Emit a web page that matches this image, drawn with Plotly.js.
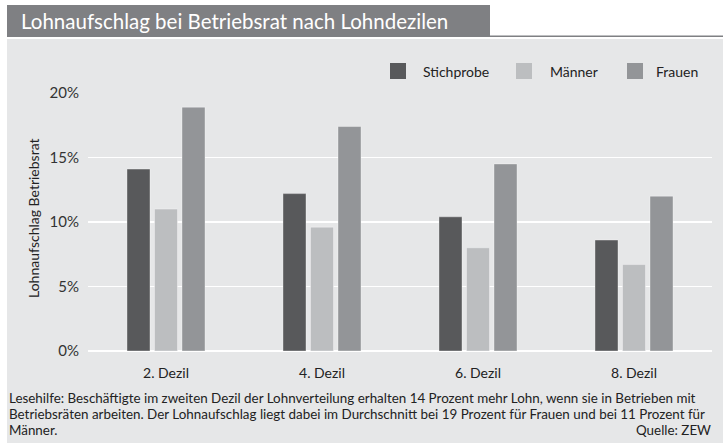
<!DOCTYPE html>
<html>
<head>
<meta charset="utf-8">
<script src="https://cdn.plot.ly/plotly-3.0.1.min.js"></script>
<style>html,body{margin:0;padding:0;background:#fff;}#chart{width:723px;height:443px;}</style>
</head>
<body>
<div id="chart"></div>
<script>
// ---- data ----
const categories = ['2. Dezil', '4. Dezil', '6. Dezil', '8. Dezil'];
const seriesNames = ['Stichprobe', 'Männer', 'Frauen'];
const stichprobe = [14.1, 12.2, 10.4, 8.6];
const maenner = [11.0, 9.6, 8.0, 6.7];
const frauen = [18.9, 17.4, 14.5, 12.0];
const yTickVals = [0, 5, 10, 15, 20];
const yTickText = ['0%', '5%', '10%', '15%', '20%'];
const titleText = 'Lohnaufschlag bei Betriebsrat nach Lohndezilen';
const yTitleText = 'Lohnaufschlag Betriebsrat';
const noteLines = [
  'Lesehilfe: Beschäftigte im zweiten Dezil der Lohnverteilung erhalten 14 Prozent mehr Lohn, wenn sie in Betrieben mit',
  'Betriebsräten arbeiten. Der Lohnaufschlag liegt dabei im Durchschnitt bei 19 Prozent für Frauen und bei 11 Prozent für',
  'Männer.'
];
const sourceText = 'Quelle: ZEW';

// ---- style ----
const colors = ['#58595b', '#bcbec0', '#939598'];
const panel = '#e6e7e8';
const boxGray = '#7f8083';
const W = 723, H = 443;
const M = {l: 88, r: 11, t: 93, b: 92};
const pw = W - M.l - M.r, ph = H - M.t - M.b;
const px2x = p => (p - M.l) / pw;
const py2y = p => (H - M.b - p) / ph;
const FONT = 'Lato, "Open Sans", sans-serif';
const textColor = '#333333';

const values = [stichprobe, maenner, frauen];
const traces = seriesNames.map((n, i) => ({
  type: 'bar', name: n, x: categories, y: values[i],
  marker: {color: colors[i], line: {color: 'rgba(255,255,255,0.35)', width: 1}},
  showlegend: false, hoverinfo: 'x+y+name'
}));

const shapes = [
  {type: 'rect', xref: 'paper', yref: 'paper', x0: px2x(7), x1: px2x(W + 2), y0: py2y(39), y1: py2y(H + 2),
   fillcolor: panel, line: {width: 0}, layer: 'below'},
  {type: 'rect', xref: 'paper', yref: 'paper', x0: px2x(7), x1: px2x(490), y0: py2y(5), y1: py2y(37),
   fillcolor: boxGray, line: {width: 0}, layer: 'below'},
  {type: 'rect', xref: 'paper', yref: 'paper', x0: px2x(7), x1: px2x(W + 2), y0: py2y(35.5), y1: py2y(37),
   fillcolor: boxGray, line: {width: 0}, layer: 'below'}
];

// custom legend
const legSquareX = [390, 516, 627];
const legTextX = [421, 548, 654];
const legY = 71;
const annotations = [];
seriesNames.forEach((n, i) => {
  shapes.push({type: 'rect', xref: 'paper', yref: 'paper',
    x0: px2x(legSquareX[i]), x1: px2x(legSquareX[i] + 16), y0: py2y(legY - 8), y1: py2y(legY + 8),
    fillcolor: colors[i], line: {width: 0}});
  annotations.push({xref: 'paper', yref: 'paper', x: px2x(legTextX[i]), y: py2y(legY),
    xanchor: 'left', yanchor: 'middle', showarrow: false, text: n,
    font: {family: FONT, size: 14, color: '#222'}});
});

// note lines
const noteY = [398, 414, 430];
noteLines.forEach((t, i) => {
  annotations.push({xref: 'paper', yref: 'paper', x: px2x(7), y: py2y(noteY[i]), xanchor: 'left', yanchor: 'middle',
    align: 'left', showarrow: false, text: t,
    font: {family: FONT, size: 13.4, color: '#222'}});
});
annotations.push({xref: 'paper', yref: 'paper', x: px2x(713), y: py2y(noteY[2]), xanchor: 'right', yanchor: 'middle',
  align: 'right', showarrow: false, text: sourceText,
  font: {family: FONT, size: 13.4, color: '#222'}});
// y axis title
annotations.push({xref: 'paper', yref: 'paper', x: px2x(33), y: py2y(218), xanchor: 'center', yanchor: 'middle',
  textangle: -90, showarrow: false, text: yTitleText,
  font: {family: FONT, size: 14, color: '#222'}});

const layout = {
  width: W, height: H,
  margin: M,
  paper_bgcolor: '#ffffff',
  plot_bgcolor: 'rgba(0,0,0,0)',
  font: {family: FONT, color: textColor},
  title: {text: titleText, xref: 'container', yref: 'container', x: 21 / W, xanchor: 'left',
    y: 1 - 21.5 / H, yanchor: 'middle', font: {family: FONT, size: 20.5, color: '#ffffff'}},
  barmode: 'group', bargap: 0.471, bargroupgap: 0.164,
  xaxis: {type: 'category', showgrid: false, zeroline: false, showline: false, ticks: '',
    tickfont: {family: FONT, size: 14, color: '#222'}, ticklabelstandoff: 12, fixedrange: true},
  yaxis: {range: [0, 20], tickmode: 'array', tickvals: yTickVals, ticktext: yTickText,
    showgrid: true, gridcolor: '#ffffff', gridwidth: 1.5,
    zeroline: true, zerolinecolor: '#ffffff', zerolinewidth: 2.5, showline: false, ticks: '',
    tickfont: {family: FONT, size: 15, color: '#333'}, ticklabelstandoff: 8, fixedrange: true},
  shapes: shapes,
  annotations: annotations
};

Plotly.newPlot('chart', traces, layout, {displayModeBar: false, staticPlot: true});
</script>
</body>
</html>
